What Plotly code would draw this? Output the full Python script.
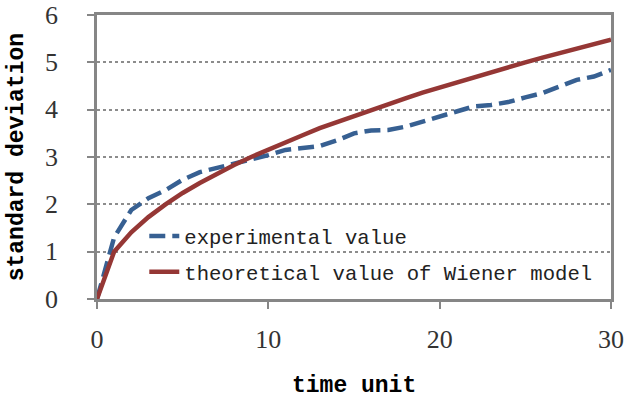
import plotly.graph_objects as go

time_unit = list(range(0, 31))
experimental = [0, 1.30, 1.88, 2.13, 2.30, 2.52, 2.68, 2.77, 2.87, 2.94, 3.04,
                3.15, 3.20, 3.23, 3.35, 3.50, 3.56, 3.57, 3.64, 3.75, 3.85,
                3.96, 4.07, 4.10, 4.16, 4.26, 4.35, 4.49, 4.63, 4.70, 4.84]
theoretical = [0, 1.00, 1.41, 1.73, 2.00, 2.24, 2.45, 2.65, 2.83, 3.00, 3.16,
               3.32, 3.46, 3.61, 3.74, 3.87, 4.00, 4.12, 4.24, 4.36, 4.47,
               4.58, 4.69, 4.80, 4.90, 5.00, 5.10, 5.20, 5.29, 5.39, 5.48]
x_ticks = [0, 10, 20, 30]
y_ticks = [0, 1, 2, 3, 4, 5, 6]

fig = go.Figure()
fig.add_trace(go.Scatter(x=time_unit, y=experimental, mode="lines",
                         name="experimental value", legendgroup="a",
                         line=dict(color="#376092", width=4.5, dash="16px,7px")))
fig.add_trace(go.Scatter(x=time_unit, y=theoretical, mode="lines",
                         name="theoretical value of Wiener model", legendgroup="b",
                         line=dict(color="#953735", width=4.5)))

axis_font = dict(family="Liberation Serif, Times New Roman, serif", size=26, color="#333333")
title_font = dict(family="Liberation Mono, DejaVu Sans Mono, monospace", size=23, color="#000000")

y_label_annotations = [
    dict(text=str(v), xref="paper", x=-0.072, yref="y", y=v,
         xanchor="right", yanchor="middle", showarrow=False, font=axis_font)
    for v in y_ticks
]

fig.update_layout(
    width=637, height=399,
    margin=dict(l=97, r=26, t=15, b=100),
    paper_bgcolor="white", plot_bgcolor="white",
    showlegend=True,
    legend=dict(x=0.092, y=0.292, xanchor="left", yanchor="top",
                bgcolor="rgba(0,0,0,0)", borderwidth=0,
                font=dict(family="Liberation Mono, monospace", size=20.6, color="#222222"),
                tracegroupgap=6, itemwidth=30),
    xaxis=dict(range=[0, 30], tickvals=x_ticks, ticks="outside", ticklen=7,
               tickwidth=2, tickcolor="#868686", showgrid=False, zeroline=False,
               showline=True, linecolor="#868686", linewidth=3, mirror=True,
               tickfont=axis_font, ticklabelstandoff=8),
    yaxis=dict(range=[0, 6], tickvals=y_ticks, ticks="outside", ticklen=7,
               tickwidth=2, tickcolor="#868686", showgrid=True,
               gridcolor="#8c8c8c", griddash="dot", gridwidth=2, zeroline=False,
               showline=True, linecolor="#868686", linewidth=3, mirror=True,
               showticklabels=False),
    annotations=y_label_annotations + [
        dict(text="<b>time unit</b>", xref="paper", yref="paper",
             x=0.5, y=-0.305, xanchor="center", yanchor="middle",
             showarrow=False, font=title_font),
        dict(text="<b>standard deviation</b>", xref="paper", yref="paper",
             x=-0.155, y=0.5, xanchor="center", yanchor="middle", textangle=-90,
             showarrow=False, font=title_font),
    ],
)

fig.write_html("out.html")
